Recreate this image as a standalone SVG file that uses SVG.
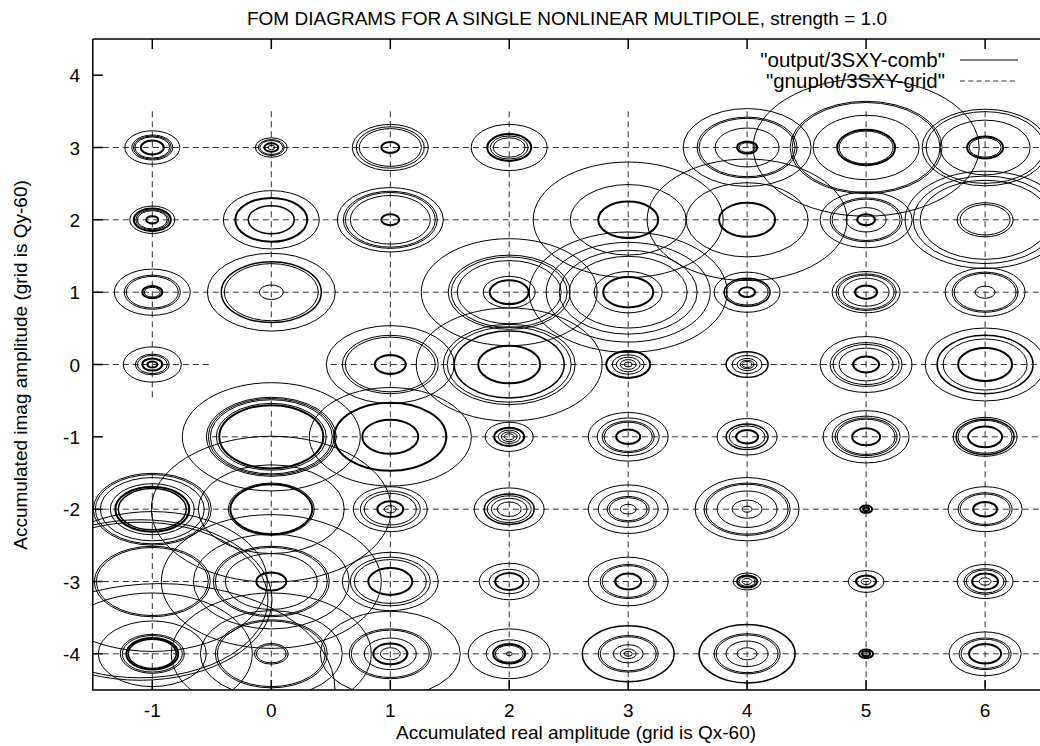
<svg xmlns="http://www.w3.org/2000/svg" width="1040" height="746" viewBox="0 0 1040 746">
<style>
text{font-family:"Liberation Sans",Arial,sans-serif;font-size:19px;fill:#000}
.lg{font-size:20.5px}
circle{fill:none;stroke:#000;stroke-width:1;vector-effect:non-scaling-stroke}
.k{stroke-width:2}
.m{stroke-width:1.5}
.g{stroke:#333;stroke-width:1;stroke-dasharray:6,4;fill:none}
.ax{stroke:#000;stroke-width:1.5;fill:none}
</style>
<defs><clipPath id="pc"><rect x="93" y="39" width="960" height="651"/></clipPath></defs>
<rect width="1040" height="746" fill="#fff"/>
<text x="567" y="25" text-anchor="middle">FOM DIAGRAMS FOR A SINGLE NONLINEAR MULTIPOLE, strength = 1.0</text>
<g id="connectors" clip-path="url(#pc)">
<path class="g" d="M92.8 147.5H1045M92.8 219.8H1045M92.8 292.2H1045M92.8 364.5H211.8M330.8 364.5H1045M211.8 436.8H1045M92.8 509.2H1045M92.8 581.5H1045M92.8 653.8H1045"/>
<path class="g" d="M152.3 111.3V400.7M152.3 473V690M271.3 111.3V328.3M271.3 400.7V690M390.3 111.3V690M509.2 111.3V690M628.2 111.3V690M747.1 111.3V690M866.1 111.3V690M985.1 111.3V690"/>
</g>
<g id="nodes" clip-path="url(#pc)">
<g id="pm1_3" transform="translate(152.3,147.5) scale(1,0.608)"><circle r="27.5"/><circle r="20.5"/><circle r="19"/><circle r="17.5"/><circle class="k" r="11.5"/></g>
<g id="p0_3" transform="translate(271.3,147.5) scale(1,0.608)"><circle r="16"/><circle r="13"/><circle r="11.5"/><circle class="k" r="7"/><circle r="3.5"/></g>
<g id="p1_3" transform="translate(390.3,147.5) scale(1,0.608)"><circle r="38"/><circle r="34"/><circle r="31"/><circle class="k" r="9"/></g>
<g id="p2_3" transform="translate(509.2,147.5) scale(1,0.608)"><circle r="38"/><circle class="k" r="22"/><circle r="19"/><circle r="16"/></g>
<g id="p4_3" transform="translate(747.1,147.5) scale(1,0.608)"><circle r="64"/><circle r="50"/><circle r="48"/><circle r="32"/><circle class="k" r="10"/><circle r="8"/></g>
<g id="p5_3" transform="translate(866.1,147.5) scale(1,0.608)"><circle r="113"/><circle r="76"/><circle r="74"/><circle r="53"/><circle class="k" r="29"/><circle r="27"/></g>
<g id="p6_3" transform="translate(985.1,147.5) scale(1,0.608)"><circle r="63"/><circle r="59"/><circle r="45"/><circle class="k" r="18"/><circle r="16"/></g>
<g id="pm1_2" transform="translate(152.3,219.8) scale(1,0.608)"><circle r="22.5"/><circle class="k" r="18.5"/><circle r="16.5"/><circle r="15"/><circle class="k" r="6"/></g>
<g id="p0_2" transform="translate(271.3,219.8) scale(1,0.608)"><circle r="48"/><circle class="k" r="36"/><circle class="m" r="23"/></g>
<g id="p1_2" transform="translate(390.3,219.8) scale(1,0.608)"><circle r="53"/><circle r="47"/><circle r="45"/><circle r="40"/><circle class="k" r="9"/></g>
<g id="p3_2" transform="translate(628.2,219.8) scale(1,0.608)"><circle r="95"/><circle r="58"/><circle class="k" r="30"/></g>
<g id="p4_2" transform="translate(747.1,219.8) scale(1,0.608)"><circle r="100"/><circle r="61"/><circle class="k" r="28"/></g>
<g id="p5_2" transform="translate(866.1,219.8) scale(1,0.608)"><circle r="46"/><circle r="36"/><circle r="34"/><circle r="20"/><circle class="k" r="9"/></g>
<g id="p6_2" transform="translate(985.1,219.8) scale(1,0.608)"><circle r="80"/><circle r="72"/><circle r="65"/><circle r="28"/><circle r="25"/></g>
<g id="pm1_1" transform="translate(152.3,292.2) scale(1,0.608)"><circle r="38"/><circle r="28"/><circle r="26"/><circle class="k" r="10"/><circle r="8"/></g>
<g id="p0_1" transform="translate(271.3,292.2) scale(1,0.608)"><circle r="64"/><circle class="m" r="50"/><circle r="47"/><circle r="12"/></g>
<g id="p2_1" transform="translate(509.2,292.2) scale(1,0.608)"><circle r="88"/><circle r="61"/><circle r="58"/><circle r="52"/><circle r="26"/><circle class="k" r="19.5"/></g>
<g id="p3_1" transform="translate(628.2,292.2) scale(1,0.608)"><circle r="99"/><circle r="82"/><circle r="69"/><circle r="59"/><circle r="34"/><circle class="k" r="25"/></g>
<g id="p4_1" transform="translate(747.1,292.2) scale(1,0.608)"><circle r="33"/><circle class="m" r="23"/><circle r="21"/><circle class="k" r="8"/></g>
<g id="p5_1" transform="translate(866.1,292.2) scale(1,0.608)"><circle r="34"/><circle r="30"/><circle r="28"/><circle r="23"/><circle class="k" r="11"/></g>
<g id="p6_1" transform="translate(985.1,292.2) scale(1,0.608)"><circle r="40"/><circle r="33"/><circle r="31"/><circle r="10"/></g>
<g id="pm1_0" transform="translate(152.3,364.5) scale(1,0.608)"><circle r="29"/><circle r="17"/><circle r="15"/><circle class="k" r="10"/><circle class="k" r="5"/></g>
<g id="p1_0" transform="translate(390.3,364.5) scale(1,0.608)"><circle r="64"/><circle r="48"/><circle r="45"/><circle class="k" r="15.5"/></g>
<g id="p2_0" transform="translate(509.2,364.5) scale(1,0.608)"><circle r="93"/><circle r="66"/><circle r="62"/><circle class="m" r="55"/><circle class="k" r="31"/></g>
<g id="p3_0" transform="translate(628.2,364.5) scale(1,0.608)"><circle class="k" r="22"/><circle r="16"/><circle r="12"/><circle r="8"/><circle r="4"/></g>
<g id="p4_0" transform="translate(747.1,364.5) scale(1,0.608)"><circle class="m" r="21"/><circle r="15"/><circle r="10"/><circle r="7"/><circle r="5"/></g>
<g id="p5_0" transform="translate(866.1,364.5) scale(1,0.608)"><circle r="46"/><circle r="36"/><circle r="33"/><circle r="27"/><circle class="k" r="13"/></g>
<g id="p6_0" transform="translate(985.1,364.5) scale(1,0.608)"><circle r="60"/><circle class="m" r="48"/><circle r="42"/><circle class="k" r="27"/></g>
<g id="p0_m1" transform="translate(271.3,436.8) scale(1,0.608)"><circle r="89"/><circle r="65"/><circle r="63"/><circle r="61"/><circle r="55"/><circle class="k" r="52"/></g>
<g id="p1_m1" transform="translate(390.3,436.8) scale(1,0.608)"><circle r="81"/><circle class="k" r="56"/><circle class="k" r="28"/></g>
<g id="p2_m1" transform="translate(509.2,436.8) scale(1,0.608)"><circle r="24"/><circle class="k" r="15"/><circle r="11"/><circle r="8"/><circle r="5"/></g>
<g id="p3_m1" transform="translate(628.2,436.8) scale(1,0.608)"><circle r="40"/><circle r="31"/><circle r="26"/><circle r="24"/><circle class="k" r="12"/></g>
<g id="p4_m1" transform="translate(747.1,436.8) scale(1,0.608)"><circle r="30"/><circle class="m" r="21"/><circle r="18"/><circle class="k" r="11"/></g>
<g id="p5_m1" transform="translate(866.1,436.8) scale(1,0.608)"><circle r="43"/><circle r="34"/><circle r="31"/><circle r="29"/><circle class="k" r="14"/></g>
<g id="p6_m1" transform="translate(985.1,436.8) scale(1,0.608)"><circle r="32"/><circle class="m" r="29"/><circle r="27"/><circle class="k" r="17"/></g>
<g id="pm1_m2" transform="translate(152.3,509.2) scale(1,0.608)"><circle r="59"/><circle r="57"/><circle r="52"/><circle r="42"/><circle class="k" r="37"/><circle class="m" r="34"/></g>
<g id="p0_m2" transform="translate(271.3,509.2) scale(1,0.608)"><circle r="120"/><circle r="73"/><circle r="43"/><circle class="k" r="41"/></g>
<g id="p1_m2" transform="translate(390.3,509.2) scale(1,0.608)"><circle r="37"/><circle r="30"/><circle r="26"/><circle class="k" r="13"/><circle r="6"/></g>
<g id="p2_m2" transform="translate(509.2,509.2) scale(1,0.608)"><circle r="35"/><circle class="m" r="25"/><circle r="22"/><circle r="18"/><circle r="12"/></g>
<g id="p3_m2" transform="translate(628.2,509.2) scale(1,0.608)"><circle r="40"/><circle r="30"/><circle r="21"/><circle r="19"/><circle r="8"/></g>
<g id="p4_m2" transform="translate(747.1,509.2) scale(1,0.608)"><circle r="52"/><circle r="43"/><circle r="41"/><circle r="30"/><circle r="15"/><circle r="5"/></g>
<g id="p5_m2" transform="translate(866.1,509.2) scale(1,0.608)"><circle class="k" r="6"/><circle class="k" r="3"/></g>
<g id="p6_m2" transform="translate(985.1,509.2) scale(1,0.608)"><circle r="37"/><circle r="27"/><circle r="25"/><circle class="k" r="12"/></g>
<g id="pm1_m3" transform="translate(152.3,581.5) scale(1,0.608)"><circle r="115"/><circle r="58"/><circle r="56"/></g>
<g id="pm1_m3b" transform="translate(140,600) scale(1,0.608)"><circle r="132"/><circle r="128"/></g>
<g id="pm1_m4b" transform="translate(160,690) scale(1,0.608)"><circle r="175"/></g>
<g id="p0_m3" transform="translate(271.3,581.5) scale(1,0.608)"><circle r="110"/><circle r="78"/><circle r="58"/><circle r="56"/><circle r="46"/><circle class="k" r="15"/></g>
<g id="p1_m3" transform="translate(390.3,581.5) scale(1,0.608)"><circle r="48"/><circle r="40"/><circle r="36"/><circle class="k" r="22"/></g>
<g id="p2_m3" transform="translate(509.2,581.5) scale(1,0.608)"><circle r="30"/><circle r="20"/><circle class="k" r="14"/></g>
<g id="p3_m3" transform="translate(628.2,581.5) scale(1,0.608)"><circle r="40"/><circle r="28"/><circle r="26"/><circle class="k" r="13"/></g>
<g id="p4_m3" transform="translate(747.1,581.5) scale(1,0.608)"><circle r="14"/><circle class="k" r="10"/><circle r="8"/><circle r="5"/></g>
<g id="p5_m3" transform="translate(866.1,581.5) scale(1,0.608)"><circle r="18"/><circle class="k" r="10"/><circle r="5"/></g>
<g id="p6_m3" transform="translate(985.1,581.5) scale(1,0.608)"><circle r="28"/><circle r="21"/><circle r="19"/><circle class="k" r="13"/><circle r="6"/></g>
<g id="pm1_m4" transform="translate(152.3,653.8) scale(1,0.608)"><circle r="100"/><circle r="54"/><circle r="32"/><circle r="30"/><circle class="k" r="26"/><circle class="m" r="24"/></g>
<g id="p0_m4" transform="translate(271.3,653.8) scale(1,0.608)"><circle r="100"/><circle r="71"/><circle r="56"/><circle r="54"/><circle r="17"/><circle r="15"/></g>
<g id="p1_m4" transform="translate(390.3,653.8) scale(1,0.608)"><circle r="70"/><circle r="41"/><circle r="39"/><circle r="26"/><circle class="k" r="17"/><circle r="10"/></g>
<g id="p2_m4" transform="translate(509.2,653.8) scale(1,0.608)"><circle r="41"/><circle r="23"/><circle class="k" r="16"/><circle r="14"/><circle r="3"/></g>
<g id="p3_m4" transform="translate(628.2,653.8) scale(1,0.608)"><circle class="m" r="46"/><circle r="30"/><circle r="28"/><circle r="15"/><circle r="8"/><circle r="4"/></g>
<g id="p4_m4" transform="translate(747.1,653.8) scale(1,0.608)"><circle class="m" r="48"/><circle r="33"/><circle r="31"/><circle r="21"/><circle r="10"/></g>
<g id="p5_m4" transform="translate(866.1,653.8) scale(1,0.608)"><circle class="k" r="7"/><circle class="k" r="4"/></g>
<g id="p6_m4" transform="translate(985.1,653.8) scale(1,0.608)"><circle r="36"/><circle r="26"/><circle r="24"/><circle class="k" r="16"/></g>
</g>
<g id="axes">
<path class="ax" d="M92.8 39H1040M92.8 39V690H1040"/>
<path class="ax" d="M92.8 75.2h10M92.8 147.5h10M92.8 219.8h10M92.8 292.2h10M92.8 364.5h10M92.8 436.8h10M92.8 509.2h10M92.8 581.5h10M92.8 653.8h10"/>
<path class="ax" d="M152.3 39v10M271.3 39v10M390.3 39v10M509.2 39v10M628.2 39v10M747.1 39v10M866.1 39v10M985.1 39v10M152.3 690v-10M271.3 690v-10M390.3 690v-10M509.2 690v-10M628.2 690v-10M747.1 690v-10M866.1 690v-10M985.1 690v-10"/>
</g>
<g id="ylabels" text-anchor="end">
<text x="80" y="82.2">4</text><text x="80" y="154.5">3</text><text x="80" y="226.8">2</text><text x="80" y="299.2">1</text><text x="80" y="371.5">0</text><text x="80" y="443.8">-1</text><text x="80" y="516.2">-2</text><text x="80" y="588.5">-3</text><text x="80" y="660.8">-4</text>
</g>
<g id="xlabels" text-anchor="middle">
<text x="152.3" y="717">-1</text><text x="271.3" y="717">0</text><text x="390.3" y="717">1</text><text x="509.2" y="717">2</text><text x="628.2" y="717">3</text><text x="747.1" y="717">4</text><text x="866.1" y="717">5</text><text x="985.1" y="717">6</text>
</g>
<text x="576" y="739" text-anchor="middle">Accumulated real amplitude (grid is Qx-60)</text>
<text transform="translate(27,365) rotate(-90)" text-anchor="middle">Accumulated imag amplitude (grid is Qy-60)</text>
<g id="legend">
<text class="lg" x="945" y="67" text-anchor="end">"output/3SXY-comb"</text>
<text class="lg" x="945" y="88" text-anchor="end">"gnuplot/3SXY-grid"</text>
<path d="M960 60H1018" stroke="#000" stroke-width="1"/>
<path class="g" d="M960 81H1018" style="stroke-dasharray:5,3.3"/>
</g>
</svg>
